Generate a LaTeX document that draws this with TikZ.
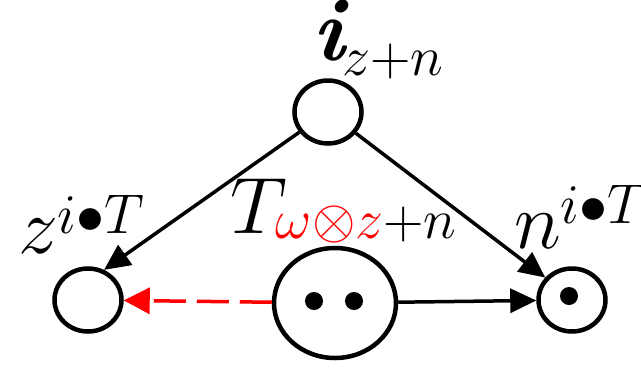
\RequirePackage{fix-cm}
\documentclass[tikz,border=0pt]{standalone}
\usepackage{amsmath}
\usetikzlibrary{shapes.geometric,arrows.meta}
\newcommand{\bigsz}{\fontsize{80pt}{80pt}\selectfont}
\newcommand{\hugesz}{\fontsize{90pt}{90pt}\selectfont}
\begin{document}
\begin{tikzpicture}[x=1pt,y=-1pt,
  state/.style={ellipse,draw,line width=4.5pt,inner sep=0pt,minimum width=67pt,minimum height=63pt},
  big/.style={ellipse,draw,line width=4.5pt,inner sep=0pt,minimum width=122pt,minimum height=110pt},
  dot/.style={circle,fill=black,inner sep=0pt,minimum size=18pt},
  lbl/.style={inner sep=0pt,outer sep=0pt,anchor=base west,font=\bigsz},
  arr/.style={line width=3.5pt,-{Triangle[length=26pt,width=24pt]}},
  redarr/.style={line width=3.5pt,red,dash pattern=on 32pt off 11pt,-{Triangle[length=26pt,width=26pt]}}
]
\useasboundingbox (0,0) rectangle (641,368);
\node[state] (top) at (328,112) {};
\node[state] (left) at (88,300) {};
\node[state] (right) at (572,300) {};
\node[big] (mid) at (335,303) {};
\node[dot] (d1) at (314,301) {};
\node[dot] (d2) at (354,301) {};
\node[dot] (d3) at (569,296) {};

\node[lbl] (lt) at (312,60) {{\hugesz\bfseries\itshape i}\hspace{-2pt}$_{\raisebox{-3pt}{$\scriptstyle z+n$}}$};
\node[lbl] (ll) at (18,253) {$z^{\raisebox{-10pt}{$\scriptstyle i{\bullet}T$}}$};
\node[lbl] (lm) at (230,233) {$T_{\raisebox{7pt}{$\scriptstyle{\color{red}\omega{\otimes}z}{+}n$}}$};
\node[lbl] (lr) at (514,248) {$n^{\raisebox{-5pt}{$\scriptstyle i{\bullet}T$}}$};

\draw[arr] (top) -- (left.62);
\draw[arr] (top) -- (right.140);
\draw[arr] (mid) -- (right);
\draw[redarr] (mid) -- (left);
\end{tikzpicture}
\end{document}
